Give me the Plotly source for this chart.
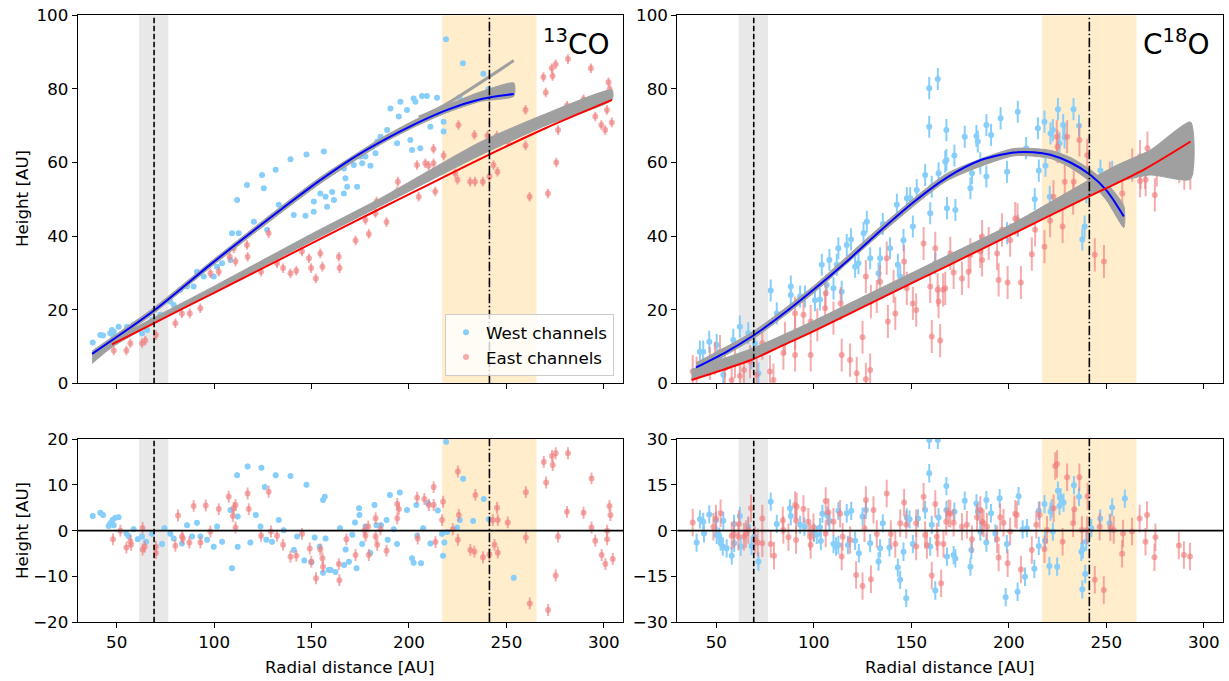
import plotly.graph_objects as go

# ---------------- data ----------------
# 13CO, top panel: (radius AU, height AU)
CO13_WEST = [(37.7,11.1),(41.6,13.1),(43,13),(46.7,13.6),(47.6,14.5),(48.5,14),(51,15.4),(48.3,12.7),(55.3,15.4),
 (58.7,15.9),(63,13.6),(65.6,14.5),(68.1,17.2),(72.4,18.6),(77.5,22.2),(79.3,21.3),(82.7,25.4),(86.1,26.3),(89.5,26.3),
 (91.2,30.3),(94.7,29),(99.8,29),(101.5,31.7),(104.1,32.6),(108.4,33.5),(109.2,40.8),(111.8,49.8),(112.6,40.8),(116.9,53.9),
 (120.4,43.9),(124.6,56.6),(125.5,53),(127.2,41.7),(131.6,58),(133.2,48.5),(139.2,60.9),(140.9,45.7),(147.4,62.2),(151.1,46.6),
 (156.3,63),(158,48),(154.5,51.6),(146.9,45.5),(151.2,49.4),(160.6,52),(157.2,50.7),(161.5,49.8),(166.6,51.6),(168.3,53.4),
 (173.4,53.4),(167.4,55.7),(166.6,58.4),(171.7,59.3),(176,59.8),(180.2,59.1),(177.7,61.6),(181.1,64.3),(185.4,67),(188.8,68.8),
 (183.7,65.7),(193.9,65.2),(194.8,72.5),(190.5,74.7),(195.6,76.5),(199,74.3),(202.4,77.4),(203.3,76.5),(206.7,78.1),(209.2,78.1),
 (214.4,77.6),(211,69.7),(201.6,63.4),(205.8,63.9),(200.7,66.1),(217.8,68.4),(217.8,71.1),(219.5,74.3),(219,93.5),(227.7,87),
 (226,77.7),(238.2,84.1),(240.8,79.9),(253.6,68.4),(175.1,61.6),(182.8,62.5)]
CO13_EAST = [(48.5,8.9),(55,8.9),(57,10.9),(63,10.9),(64.7,11.6),(70.2,13.1),(80.1,16.3),(83.5,19),(87.5,19),(92.9,20.4),
 (98.1,29.9),(102.4,30.3),(108,34.4),(111,33.1),(110.1,36.7),(116.9,37.6),(117.2,34.4),(124.1,30.3),(128,40.8),(132.3,32.6),
 (135.4,31.3),(139.2,29.9),(142.2,30.6),(145.1,35.8),(148.7,34),(149.8,31.3),(152.2,28.5),(154.5,35.3),(155.6,31.7),(164,34.4),
 (164.4,31.3),(172.6,38.8),(179.4,40.6),(177.7,44.4),(182.8,46.2),(183.4,49.4),(188.5,43.8),(194.3,54.8),(193.9,52.1),(205,50.7),
 (204.1,59.3),(208.4,59.8),(210.1,59.1),(212.6,63.7),(212.6,59.8),(213.5,52.1),(217.8,61.9),(223.7,57.1),(224.9,55.3),(225.4,70.2),
 (231.4,54.8),(233.9,54.8),(233.6,67.5),(237.9,54.8),(240.3,67.3),(241.3,56.2),(243.4,59.3),(245.4,57.5),(245.1,67.3),(250.8,65.7),
 (259.8,74.3),(259.8,64.6),(261.9,50.7),(269,83.2),(270.2,79),(271.3,51.6),(273.3,85.6),(273.7,83.5),(275.3,86.7),(275.6,60),
 (276.5,68.8),(281.1,75.4),(281.6,88.1),(289.6,77.2),(293.4,85.6),(295.6,72.5),(298.7,70.2),(300.7,68.8),(301.6,74.3),(302.4,81.8),
 (303,79.9),(304.1,70.9)]
CO13_WEST_ERR = 0.6
CO13_EAST_ERR = 1.3

# 13CO fitted curves
CO13_WEST_FIT_R = [37.4, 69, 99.8, 134, 154.5, 170, 185.4, 202.5, 219.6, 236.7, 253.8]
CO13_WEST_FIT_H = [8.0, 19.7, 33.0, 47.1, 55.2, 60.8, 65.6, 70.3, 74.3, 77.2, 78.6]
CO13_EAST_FIT_R = [47.6, 69, 100, 150, 185.4, 202.5, 236.7, 270, 304.2]
CO13_EAST_FIT_H = [10.6, 16.3, 24.6, 38.0, 47.5, 52.0, 61.0, 69.3, 77.0]
# 13CO grey sample envelopes
CO13_WEST_BAND_R  = [37.4, 69, 99.8, 134, 154.5, 185.4, 202.5, 219.6, 236.7, 253.8]
CO13_WEST_BAND_LO = [7.3, 19.0, 32.2, 46.2, 54.3, 64.9, 69.6, 73.6, 76.6, 78.0]
CO13_WEST_BAND_HI = [8.8, 20.5, 33.7, 47.9, 56.0, 66.5, 71.4, 75.6, 79.2, 81.6]
CO13_WEST_BRANCH_R = [205, 217.9, 253.8]
CO13_WEST_BRANCH_H = [72.3, 75.5, 87.7]
CO13_EAST_BAND_R  = [37.4, 47.6, 69, 100, 150, 185.4, 236.7, 270, 304.2]
CO13_EAST_BAND_LO = [5.4, 9.8, 16.3, 24.8, 38.6, 48.2, 62.0, 70.0, 77.0]
CO13_EAST_BAND_HI = [7.0, 11.6, 17.8, 26.4, 40.6, 50.3, 65.6, 73.2, 79.7]

# C18O, top panel
C18O_WEST = [(41.6,8.6),(43.3,8.6),(46.4,11.3),(50.2,10.4),(52.7,6.3),(53.6,2.3),(58.7,11.8),(62.1,15.4),(66.4,13.6),(68.1,6.8),
 (69.8,10.9),(71.6,2.7),(77.9,25.2),(81,19),(88.2,26.3),(88.2,24),(93,23.6),(95.5,23.6),(100.6,22.6),(103.2,22.8),(104.1,32.2),
 (106.6,26.7),(108,33.5),(110.1,25.8),(111.8,32.2),(112.6,36.7),(114.3,24.9),(116.9,37.6),(119.1,39.1),(121.2,31.7),(122.9,32.6),
 (125.5,40.8),(127.2,43.9),(128.9,34),(133.2,29.9),(134,34),(135.4,43.3),(139.1,36.7),(142.6,48.5),(143.1,32.2),(144.3,29),
 (146,38.9),(147.7,50.3),(149.4,50.3),(150.8,42.6),(152.8,52.5),(157.1,56.6),(159.2,80.2),(159.2,69.7),(159.7,46.2),(160.5,53.4),
 (163.6,82.7),(164,57.1),(162.3,32.6),(168,68.8),(168,60.7),(168.3,47.6),(167.4,60.2),(172.6,47.1),(172.1,61.9),(177.4,67),
 (180.3,53),(181.1,57.1),(183.4,67.2),(184.1,65.7),(185.4,59.8),(188.5,70.2),(190.9,67.5),(188.5,56.2),(195.8,72),(199.1,57.5),
 (204.6,73.8),(208.9,63.9),(214.9,69.3),(215.4,57.8),(218.3,71.1),(218.8,59.1),(221.4,67.9),(222.6,68.8),(225.2,74.5),(226,65.2),
 (227.9,70.2),(228.6,66.8),(233.2,74.5),(236,70),(238.9,42.6),(237.7,39.1),(239.8,51.9),(240.6,53),(247,57.8),(253,57.5),
 (204.6,42.8),(199.1,40.8),(221,50.7),(213.3,50)]
C18O_EAST = [(37.9,3.2),(39.9,2.7),(46.7,5.4),(49.3,6.8),(51.9,8.6),(54.4,4.1),(57.9,0.9),(59.6,5.9),(62.1,2),(64.2,3.6),(67.3,5.9),
 (70.7,2.3),(73.6,10.9),(77.5,3.2),(79.3,0.9),(84.4,8.2),(85.2,12.2),(90.4,13.6),(90.4,19),(90.4,7.7),(94.7,18.6),(98.4,7.7),
 (98.4,16.8),(101.8,15.9),(105.8,20.4),(106.1,24.5),(110.1,17.7),(113.8,21.7),(114.3,7.7),(118.6,6.3),(122,2.7),(125,12.5),
 (126.7,1.1),(128.9,3.6),(126.7,29),(129.3,22.2),(132.3,23.6),(134,27.6),(137.4,34),(138,16.8),(140.9,26.3),(141.8,19),(146.3,33.1),
 (147.7,25.8),(150.8,21.7),(152.5,19.9),(156.3,38),(159.7,26.3),(160.5,12.7),(162.3,36.7),(164.8,11.6),(164,22.2),(167.4,25.8),
 (170,35.3),(163.5,25.4),(166.3,25.4),(171.7,30.1),(176,28.5),(179.4,30.3),(180.3,34.9),(185.4,35.8),(186.3,39.9),(186.3,33.5),
 (189.7,38),(194,35.3),(194.8,28.1),(196.5,41.7),(199.4,27.4),(200.7,38.9),(203.3,44.8),(204.5,44.4),(206.2,27.4),(211.8,35.1),
 (213.5,41.7),(218.3,37.1),(221.2,44.2),(222.9,50.7),(224.6,67),(225,64.3),(227.6,42.6),(228.7,54.8),(229.9,67),(233.3,54.8),
 (233,50.3),(236.2,66.1),(240.2,62),(244.1,34.9),(248.8,33.1),(251.8,55.7),(258.2,51.6),(263.3,59.3),(267.3,61.6),(270.2,55.3),
 (271.1,63.9),(274.9,51.2),(275.9,58),(287.4,58.9),(290,57.1),(293.1,57.1),(267.3,55),(269.9,57.3),(267.6,57.3)]
C18O_WEST_ERR = 3.0
C18O_EAST_ERR = 4.5

C18O_WEST_FIT_R = [39.6, 55, 69, 82.7, 99.8, 116.9, 134, 151.1, 168.2, 185.4, 202.5, 212.7, 221.3, 231.6, 241.9, 250.4, 259]
C18O_WEST_FIT_H = [4.3, 8.5, 13.0, 18.2, 25.4, 33.1, 41.4, 49.2, 55.9, 60.6, 62.7, 62.8, 62.1, 60.0, 56.6, 52.2, 45.3]
C18O_EAST_FIT_R = [37.3, 52, 69, 84, 100, 134, 168, 202, 237, 270, 293.2]
C18O_EAST_FIT_H = [0.9, 3.4, 6.6, 10.3, 14.2, 23.0, 31.8, 40.6, 49.7, 58.3, 65.7]
C18O_WEST_BAND_R  = [39.6, 69, 99.8, 134, 168.2, 202.5, 221.3, 231.6, 241.9, 250.4, 259]
C18O_WEST_BAND_LO = [3.2, 12.1, 24.5, 40.5, 55.0, 61.8, 61.1, 58.6, 54.7, 49.5, 42.3]
C18O_WEST_BAND_HI = [5.6, 14.1, 26.4, 42.5, 57.0, 63.8, 63.3, 61.4, 58.0, 54.3, 48.2]
C18O_EAST_BAND_R  = [37.3, 69, 100, 134, 168, 202, 237, 255.5, 272.6, 293.2]
C18O_EAST_BAND_LO = [1.2, 6.9, 14.4, 23.2, 32.0, 40.8, 49.9, 54.6, 56.6, 55.5]
C18O_EAST_BAND_HI = [3.8, 9.6, 17.0, 25.8, 34.6, 43.4, 54.0, 59.3, 63.4, 71.0]

# 13CO residuals
RES13_WEST = [(37.7,3.2),(41.6,3.9),(43,3.4),(45.9,1),(46.7,1.6),(47.9,2.3),(49.3,2.8),(51,2.9),(48.5,1.2),(55,-0.6),(56.2,-1.2),
 (58.7,0.3),(60.8,-1.9),(63,-1.3),(65.1,-2.4),(68.1,-0.7),(73.3,-2.9),(74.5,0.5),(77.5,-0.7),(79.3,-1.7),(83.5,-2.8),(86.1,1.2),
 (88.7,-1.3),(91.2,1.7),(93,-1.3),(96.4,-2),(99.8,-3.5),(101.5,0.9),(104.1,-2.4),(108.4,4.5),(109.2,-8.2),(111.8,12.1),(112.1,3.1),
 (112.1,-3.5),(117.2,14),(118.6,-2.6),(121.4,3.4),(123.8,0.9),(124.3,13.7),(126,9.5),(126.8,-2),(129.7,-2.4),(131.6,12.1),
 (133.2,2.3),(135.7,0.1),(139.2,11.9),(140.9,-4.2),(142.6,-1.3),(147.4,10),(146.3,-6.5),(149.9,-6.9),(151.6,-1.5),(155.9,6.7),
 (156.8,7.4),(155.9,-9.2),(154.2,-3.5),(158.8,-8.6),(157.2,-1.7),(159.8,-8.6),(162.3,-9),(164.6,0.5),(166.7,-7.5),(167.5,-4.1),
 (169.2,-6.8),(170.9,-0.9),(172.3,1.8),(173.1,-8.2),(174.6,3.4),(174.4,4.9),(176,-2.9),(177.7,0.9),(180.2,-4.9),(182.3,5.6),
 (183.3,1.2),(185.7,1.2),(188.5,2.3),(189.1,-2),(190.2,7.8),(192.2,0.3),(193.9,-2.9),(195.3,8.3),(199,4.5),(201.6,-6),(202.4,-7),
 (203.8,5.6),(204.2,-1.1),(206.2,-7.1),(207.3,0.5),(209.8,6),(211,-2.8),(214.8,4.4),(217,-0.7),(217.5,-5.5),(218.2,-2.6),
 (219.1,19.4),(219.6,-0.3),(224.7,0.7),(226.1,2.3),(227.8,11.3),(232.9,2.1),(238.4,6.9),(241,2.5),(253.8,-10.3)]
RES13_EAST = [(48.1,-1.9),(51.9,0),(55,-3.7),(57,-2.3),(57.4,-3.1),(63.3,0.6),(63.3,-4.1),(64.4,-3.5),(70.2,-4.9),(70.2,-3.5),
 (80.1,-3.3),(81.5,3.3),(83.5,-1.3),(84,-1.7),(87.3,-2.6),(89.5,5.4),(93,-2.6),(95.7,5.5),(98.1,-0.2),(102.4,4.7),(107.5,7.4),
 (109.6,3.2),(110.1,4.9),(111,5.6),(111,0.7),(117.2,8.1),(117.8,4.7),(124.1,-1.1),(128,8.5),(129.2,-0.2),(132.3,-1.1),(135.4,-3.1),
 (139.2,-5.7),(142.2,-5.5),(145.1,-0.7),(149.1,-3.9),(149.9,-6.8),(152.3,-10.4),(154.5,-4.1),(155.6,-6),(155.9,-7.9),(164,-7.3),
 (164.3,-10.8),(167.9,-1.9),(172.6,-5.3),(177.2,0.1),(177.7,-1.1),(179.1,0.9),(179.4,-5.3),(182.9,2.7),(182.9,-1.3),(183.7,-3.1),
 (185.4,0.3),(188.5,-4.4),(194,5.8),(194,2.7),(194.8,4.7),(204.2,7.2),(204.5,-1.7),(207.9,6.9),(210.2,5.6),(212.7,9.5),(212.7,5.6),
 (213.6,-2.5),(217,2.3),(217.5,6.3),(222.5,0.3),(225.1,12.9),(225.1,-2),(225.6,3.4),(231.5,-4.2),(233.6,-4.6),(234.1,7.8),(238,-5.8),
 (241.3,-5.2),(243,2.3),(243.9,-3.1),(245.2,5),(245.6,2.3),(245.6,-4.8),(250.7,1.8),(260,8.4),(260,-1.5),(262,-15.9),(269.2,15),
 (270.4,10.5),(271.4,-17.3),(273.4,16.3),(273.8,14.3),(275.3,16.9),(275.3,-9.8),(276.5,-1.3),(281.1,4.1),(281.6,16.9),(289.6,3.9),
 (293.7,11.4),(293.7,0.7),(295.6,-2.2),(298.9,-5.3),(300.8,-7.3),(301.7,0),(301.7,-1.9),(302.9,5.4),(303.4,3.4),(304.6,-6.2)]

# C18O residuals
RES18_WEST = [(39.9,-3.9),(41.6,3.7),(43.3,2.9),(43.7,-0.9),(46.4,5.3),(49.8,3.3),(50.2,-1.4),(51.5,-2),(52.2,-3.6),(53.3,-5.2),
 (53.6,3.2),(55.3,-5.8),(57.9,-8.2),(59.1,2.2),(59.2,-4.1),(62.1,4.8),(62.5,-5.2),(66.4,1.3),(68.1,-5),(69.5,-2),(71.6,-10.1),
 (77.9,9.5),(81,2.2),(87.8,7.3),(88.2,4.8),(93,1.9),(95.2,1.3),(100.1,-0.7),(101.5,-1.4),(103.2,1.1),(103.6,-3.4),(104.4,5.5),
 (107,4.9),(108,3.2),(110.1,-4.4),(111.4,-5.2),(112.6,6.5),(112.6,-4.7),(116.9,5.7),(117.5,-4.7),(119.2,6.5),(121.2,-3.3),
 (123.1,-7.4),(125,4.6),(126.7,6.8),(128.9,-4.1),(133.2,-10.1),(134,-5.8),(135.4,2.4),(138.8,-5.5),(143.1,-12.1),(144.3,-16.1),
 (146,-6.9),(147.4,-22.1),(147.7,4.3),(149.1,3.7),(150.8,-4.4),(153.4,4),(157.1,6.8),(159.2,29.7),(159.2,18.8),(159.7,-5.2),
 (160.5,1.9),(162.3,-19.6),(163.6,29.7),(164,4.3),(168,14.6),(168,6.8),(168.3,-8.5),(171.7,-8),(172.6,-9.1),(172.1,6.2),(177.4,9.8),
 (180.3,-11.8),(180.8,-6.3),(183.4,8.9),(184.1,6.2),(185.4,-0.3),(188.5,10),(188.5,-3.9),(190.9,5.7),(195.3,10.6),(193.1,-0.9),
 (198.4,-21.8),(199,-4.4),(204.5,-20),(205,11.3),(207.1,0.4),(208.3,-15.1),(209.3,0.8),(213.1,-12.5),(215.4,-5),(215.4,6.5),
 (218.3,8.7),(218.6,-3.3),(220.8,-11.6),(221.4,6.2),(222,7.3),(222.6,-0.3),(224.8,-11.8),(225.2,13.1),(226,8.1),(226.6,10.9),
 (228.1,9.2),(233.4,14.9),(236,11.1),(237.2,-6.9),(237.7,-19.2),(238,-6.1),(239.2,-14.2),(239.7,-3.6),(242.3,0.8),(246.9,4),
 (251.7,2.4),(253,7.6),(259.5,10.5)]
RES18_EAST = [(37.9,2.7),(48.5,1.3),(49.8,4),(52.2,5.7),(57.9,-1.7),(59.1,-1.1),(61.3,-2),(61.6,2.2),(64.2,-2),(65.2,-1.1),(66.4,0.2),
 (67.8,7.3),(69.8,-3.1),(71.2,-3.9),(73.6,4),(73.6,-4.1),(77.9,-4.4),(79.6,-8.2),(84.1,3.3),(84.4,0.2),(87,-2.2),(90.4,8.4),
 (90.9,3.3),(90.9,-3.1),(91.2,7.9),(94.7,7.1),(97.2,2.9),(98.1,-2),(98.4,-4.7),(99.8,1.1),(106.1,9.7),(106.1,-0.9),(107.5,6),
 (110.1,2.9),(113.5,5.5),(114.3,-8.5),(114.8,-2),(118.6,-3.1),(121.7,-14.5),(125,-18.1),(126,0.8),(126.7,10),(129.3,-15.9),
 (130.6,6.8),(132.3,-1.1),(137.4,12.2),(139.5,-1.1),(141.8,-4.4),(144.3,2.4),(146.3,9.2),(147.4,1.9),(152.5,2.4),(152.5,-5.2),
 (156.3,11.1),(157.1,-1.4),(158,-4.7),(160.5,-14.7),(162.3,8.7),(163.1,-2),(163.5,-4.1),(165.3,-17.2),(166.5,-4.4),(167.9,2.9),
 (169.1,5.7),(170,5.5),(171.7,2.6),(176,1.3),(178.5,1.9),(181.1,-2.8),(183.7,4.4),(185.4,6.8),(186.3,2.9),(187.1,2.4),(188.8,1.3),
 (194,-2.8),(194.8,-8.8),(195.6,4.4),(197.3,2.6),(199.4,-10.7),(200.7,-0.3),(203.3,5.5),(204.1,5.1),(206.2,-12.7),(211.8,-6.3),
 (214.1,1.9),(215.8,5.1),(218.3,-6.1),(219.6,0.2),(223,7.3),(223.8,21.2),(224.7,21.8),(227.6,-3.6),(229.9,17.5),(233,2.4),
 (233.6,7),(236.2,17.5),(237.5,0.2),(240.4,11.3),(240.1,0.2),(244.1,-16.1),(246.6,1.3),(248.7,-19.4),(252.1,1.1),(253.8,0.2),
 (258.1,-7.6),(258.6,-0.9),(263.2,-0.3),(267.1,4),(270.1,-3.6),(270.9,5.1),(275.2,-2.2),(274.7,-8.7),(287.2,-4.9),(289.8,-8),
 (292.9,-8.5)]

# reference radii
SHADOW_R = 69.2
SHADOW_BAND = (61.5, 76.5)
RING_R = 241.3
RING_BAND = (217.0, 265.5)

X_TICKS = [50, 100, 150, 200, 250, 300]

# ---------------- styling ----------------
FONT = "DejaVu Sans"
FS = 16.7
WEST_C = "rgb(135,206,250)"
EAST_C = "rgba(240,128,128,0.65)"
GREY_C = "rgb(160,160,160)"

fig = go.Figure()

def xs(pts): return [p[0] for p in pts]
def ys(pts): return [p[1] for p in pts]

def points(pts, color, err, xa, ya, name=None, legend=False):
    fig.add_trace(go.Scatter(
        x=xs(pts), y=ys(pts), mode="markers", name=name, showlegend=legend,
        marker=dict(color=color, size=6, line=dict(width=0)),
        error_y=dict(type="constant", value=err, color=color, thickness=2, width=0),
        xaxis=xa, yaxis=ya))

def band(r, lo, hi, xa, ya):
    fig.add_trace(go.Scatter(
        x=list(r) + list(r)[::-1], y=list(hi) + list(lo)[::-1], mode="lines",
        fill="toself", fillcolor=GREY_C, line=dict(color=GREY_C, width=1, shape="spline", smoothing=0.6),
        showlegend=False, hoverinfo="skip", xaxis=xa, yaxis=ya))

def curve(r, h, color, width, xa, ya):
    fig.add_trace(go.Scatter(x=r, y=h, mode="lines",
                             line=dict(color=color, width=width, shape="spline", smoothing=0.8),
                             showlegend=False, hoverinfo="skip", xaxis=xa, yaxis=ya))

# top-left 13CO
points(CO13_WEST, WEST_C, CO13_WEST_ERR, "x", "y", "West channels", True)
points(CO13_EAST, EAST_C, CO13_EAST_ERR, "x", "y", "East channels", True)
band(CO13_WEST_BAND_R, CO13_WEST_BAND_LO, CO13_WEST_BAND_HI, "x", "y")
curve(CO13_WEST_BRANCH_R, CO13_WEST_BRANCH_H, GREY_C, 3, "x", "y")
band(CO13_EAST_BAND_R, CO13_EAST_BAND_LO, CO13_EAST_BAND_HI, "x", "y")
curve(CO13_WEST_FIT_R, CO13_WEST_FIT_H, "blue", 2, "x", "y")
curve(CO13_EAST_FIT_R, CO13_EAST_FIT_H, "red", 2, "x", "y")

# top-right C18O
points(C18O_WEST, WEST_C, C18O_WEST_ERR, "x2", "y2")
points(C18O_EAST, EAST_C, C18O_EAST_ERR, "x2", "y2")
band(C18O_WEST_BAND_R, C18O_WEST_BAND_LO, C18O_WEST_BAND_HI, "x2", "y2")
band(C18O_EAST_BAND_R, C18O_EAST_BAND_LO, C18O_EAST_BAND_HI, "x2", "y2")
curve(C18O_WEST_FIT_R, C18O_WEST_FIT_H, "blue", 2, "x2", "y2")
curve(C18O_EAST_FIT_R, C18O_EAST_FIT_H, "red", 2, "x2", "y2")

# residuals
points(RES13_WEST, WEST_C, CO13_WEST_ERR, "x3", "y3")
points(RES13_EAST, EAST_C, CO13_EAST_ERR, "x3", "y3")
points(RES18_WEST, WEST_C, C18O_WEST_ERR, "x4", "y4")
points(RES18_EAST, EAST_C, C18O_EAST_ERR, "x4", "y4")

# ---------------- layout ----------------
W, H = 1229, 681
LEFT = (77.7 / W, 623.3 / W)
RIGHT = (677.3 / W, 1223.3 / W)
TOP = (1 - 383.3 / H, 1 - 15.3 / H)
BOT = (1 - 622.3 / H, 1 - 439.0 / H)

def ax(domain, anchor, rng, tickvals, labels=True):
    return dict(domain=domain, anchor=anchor, range=rng, tickvals=tickvals, showticklabels=labels,
                showline=True, linecolor="black", linewidth=1, mirror=True, ticks="outside",
                ticklen=5, tickcolor="black", showgrid=False, zeroline=False, automargin=False,
                tickfont=dict(family=FONT, size=FS, color="black"))

shapes = []
for xa, ya in [("x", "y"), ("x2", "y2"), ("x3", "y3"), ("x4", "y4")]:
    yd = ya + " domain"
    shapes += [
        dict(type="rect", xref=xa, yref=yd, x0=SHADOW_BAND[0], x1=SHADOW_BAND[1], y0=0, y1=1,
             fillcolor="rgb(232,232,232)", line=dict(width=0), layer="below"),
        dict(type="rect", xref=xa, yref=yd, x0=RING_BAND[0], x1=RING_BAND[1], y0=0, y1=1,
             fillcolor="rgb(255,237,204)", line=dict(width=0), layer="below"),
        dict(type="line", xref=xa, yref=yd, x0=SHADOW_R, x1=SHADOW_R, y0=0, y1=1,
             line=dict(color="black", width=1.6, dash="5.5px,2.5px")),
        dict(type="line", xref=xa, yref=yd, x0=RING_R, x1=RING_R, y0=0, y1=1,
             line=dict(color="black", width=1.6, dash="9.5px,2.5px,1.5px,2.5px")),
    ]
for xa, ya in [("x3", "y3"), ("x4", "y4")]:
    shapes.append(dict(type="line", xref=xa + " domain", yref=ya, x0=0, x1=1, y0=0, y1=0,
                       line=dict(color="black", width=1.6)))

annotations = [
    dict(text="<sup>13</sup>CO", xref="paper", yref="paper", x=612 / W, y=1 - 42 / H,
         xanchor="right", yanchor="middle", showarrow=False, font=dict(family=FONT, size=28, color="black")),
    dict(text="C<sup>18</sup>O", xref="paper", yref="paper", x=1212 / W, y=1 - 42 / H,
         xanchor="right", yanchor="middle", showarrow=False, font=dict(family=FONT, size=28, color="black")),
    dict(text="Height [AU]", xref="paper", yref="paper", x=22 / W, y=1 - 199 / H, textangle=-90,
         xanchor="center", yanchor="middle", showarrow=False, font=dict(family=FONT, size=FS, color="black")),
    dict(text="Height [AU]", xref="paper", yref="paper", x=22 / W, y=1 - 531 / H, textangle=-90,
         xanchor="center", yanchor="middle", showarrow=False, font=dict(family=FONT, size=FS, color="black")),
    dict(text="Radial distance [AU]", xref="paper", yref="paper", x=350 / W, y=1 - 667 / H,
         xanchor="center", yanchor="middle", showarrow=False, font=dict(family=FONT, size=FS, color="black")),
    dict(text="Radial distance [AU]", xref="paper", yref="paper", x=950 / W, y=1 - 667 / H,
         xanchor="center", yanchor="middle", showarrow=False, font=dict(family=FONT, size=FS, color="black")),
]

fig.update_layout(
    width=W, height=H, margin=dict(l=0, r=0, t=0, b=0, autoexpand=False),
    paper_bgcolor="white", plot_bgcolor="white",
    font=dict(family=FONT, size=FS, color="black"),
    xaxis=ax(LEFT, "y", [30, 310], X_TICKS, labels=False),
    yaxis=ax(TOP, "x", [0, 100], [0, 20, 40, 60, 80, 100]),
    xaxis2=ax(RIGHT, "y2", [30, 310], X_TICKS, labels=False),
    yaxis2=ax(TOP, "x2", [0, 100], [0, 20, 40, 60, 80, 100]),
    xaxis3=ax(LEFT, "y3", [30, 310], X_TICKS),
    yaxis3=ax(BOT, "x3", [-20, 20], [-20, -10, 0, 10, 20]),
    xaxis4=ax(RIGHT, "y4", [30, 310], X_TICKS),
    yaxis4=ax(BOT, "x4", [-30, 30], [-30, -15, 0, 15, 30]),
    shapes=shapes, annotations=annotations,
    legend=dict(x=614 / W, y=1 - 376 / H, xanchor="right", yanchor="bottom",
                bgcolor="rgba(255,255,255,0.8)", bordercolor="rgb(204,204,204)", borderwidth=1,
                font=dict(family=FONT, size=FS, color="black"), itemwidth=30, tracegroupgap=2),
)

fig.write_html("out.html")
